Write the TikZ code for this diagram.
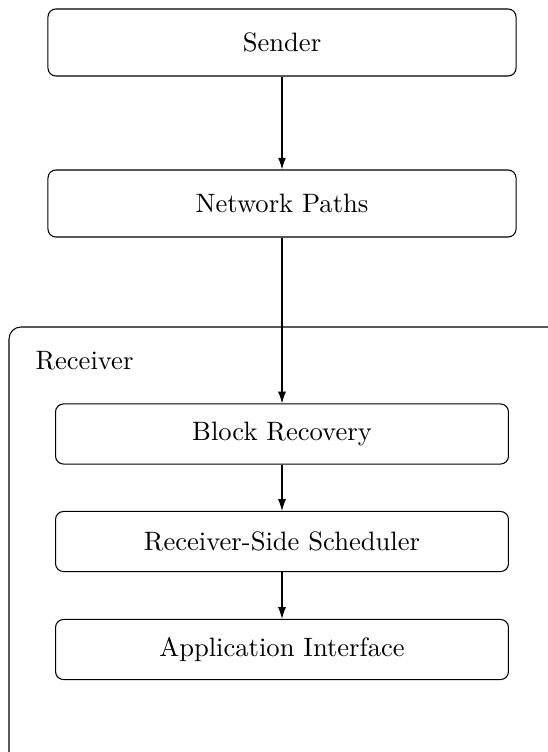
\documentclass[tikz,border=0pt]{standalone}
\usetikzlibrary{arrows.meta}
\begin{document}
\begin{tikzpicture}[x=0.376pt,y=-0.376pt,
  box/.style={draw,rounded corners=3pt,minimum width=176pt,minimum height=25.2pt,inner sep=0pt},
  ibox/.style={draw,rounded corners=3pt,minimum width=170.3pt,minimum height=22.6pt,inner sep=0pt},
  arr/.style={-{Latex[length=4.4pt,width=3pt]}}]
\useasboundingbox (0,0) rectangle (547,752);
\draw[rounded corners=4.5pt] (9,790) -- (9,327) -- (560,327);
\node[box] (sender) at (282,42.5) {Sender};
\node[box] (net) at (282,203.5) {Network Paths};
\node[anchor=west,inner sep=0pt] (rlabel) at (35,361) {Receiver};
\node[ibox] (block) at (282,434) {Block Recovery};
\node[ibox] (sched) at (282,541.5) {Receiver-Side Scheduler};
\node[ibox] (app) at (282,649.5) {Application Interface};
\draw[arr] (sender) -- (net);
\draw[arr] (net) -- (block);
\draw[arr] (block) -- (sched);
\draw[arr] (sched) -- (app);
\end{tikzpicture}
\end{document}
